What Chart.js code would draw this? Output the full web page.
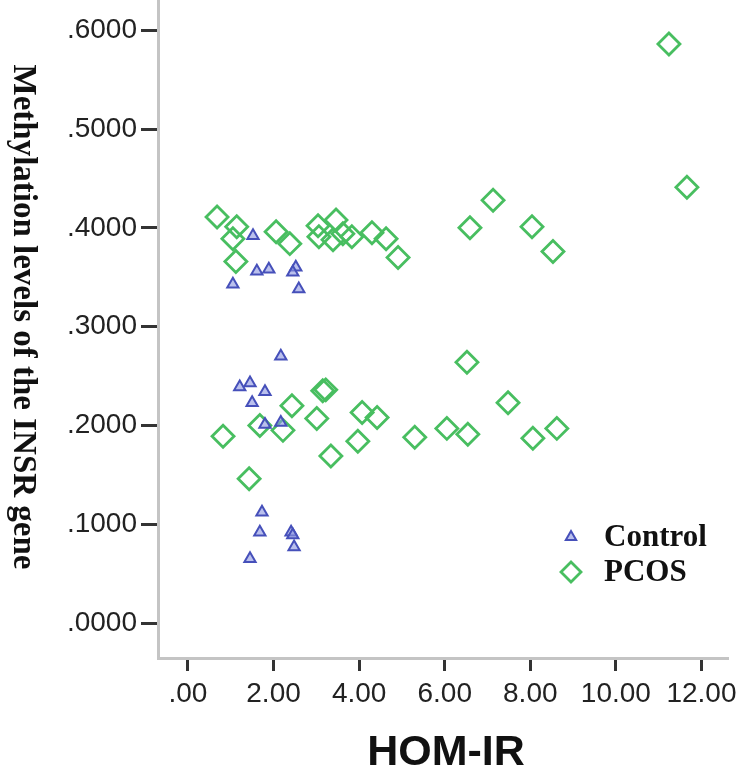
<!DOCTYPE html>
<html>
<head>
<meta charset="utf-8">
<script src="https://cdn.jsdelivr.net/npm/chart.js@4"></script>
<style>
  html, body { margin: 0; padding: 0; background: #fff; }
  #c { display: block; }
</style>
</head>
<body>
<canvas id="c" width="742" height="776"></canvas>
<script>
// ---- data ----
const seriesNames = ['Control', 'PCOS'];
const controlX = [1.52, 1.05, 1.61, 1.89, 2.52, 2.45, 2.59, 2.17, 1.21, 1.45, 1.80, 1.50, 1.80, 2.17, 1.73, 1.68, 2.41, 2.45, 2.48, 1.45];
const controlY = [0.392, 0.343, 0.356, 0.358, 0.360, 0.355, 0.338, 0.270, 0.239, 0.243, 0.234, 0.223, 0.201, 0.203, 0.112, 0.092, 0.092, 0.089, 0.077, 0.065];
const pcosX = [0.68, 1.14, 1.05, 1.12, 2.06, 2.38, 3.04, 3.06, 3.46, 3.39, 3.62, 3.83, 4.30, 4.63, 4.91, 6.59, 7.13, 8.04, 8.53, 11.24, 11.66,
               0.82, 1.43, 1.68, 2.22, 2.43, 3.01, 3.15, 3.22, 3.34, 3.97, 4.07, 4.42, 5.30, 6.05, 6.54, 6.52, 7.48, 8.06, 8.62];
const pcosY = [0.411, 0.401, 0.389, 0.366, 0.396, 0.384, 0.402, 0.391, 0.408, 0.388, 0.394, 0.391, 0.395, 0.389, 0.370, 0.400, 0.428, 0.401, 0.376, 0.586, 0.441,
               0.189, 0.146, 0.200, 0.195, 0.220, 0.207, 0.235, 0.236, 0.169, 0.184, 0.213, 0.208, 0.188, 0.197, 0.191, 0.264, 0.223, 0.187, 0.197];
const xTickLabels = ['.00', '2.00', '4.00', '6.00', '8.00', '10.00', '12.00'];
const yTickLabels = ['.0000', '.1000', '.2000', '.3000', '.4000', '.5000', '.6000'];
const xTitle = 'HOM-IR';
const yTitle = 'Methylation levels of the INSR gene';

const toPts = (xs, ys) => xs.map((x, i) => ({ x: x, y: ys[i] }));

const CONTROL_BORDER = 'rgb(70,80,186)';
const CONTROL_FILL = 'rgba(140,150,225,0.6)';
const PCOS_BORDER = 'rgb(72,190,96)';

// ---- plugin: titles + in-chart legend ----
const decor = {
  id: 'decor',
  afterDraw(chart) {
    const ctx = chart.ctx;
    ctx.save();
    // y title, rotated clockwise
    ctx.fillStyle = '#111';
    ctx.font = 'bold 33px "Liberation Serif", "Times New Roman", serif';
    ctx.textAlign = 'center';
    ctx.textBaseline = 'middle';
    ctx.translate(23, 317);
    ctx.rotate(Math.PI / 2);
    ctx.fillText(yTitle, 0, 0);
    ctx.restore();

    ctx.save();
    ctx.fillStyle = '#111';
    ctx.font = 'bold 43px "Liberation Sans", Arial, sans-serif';
    ctx.textAlign = 'center';
    ctx.textBaseline = 'middle';
    ctx.fillText(xTitle, 446, 753);
    ctx.restore();

    // legend
    ctx.save();
    const items = [
      { label: seriesNames[0], style: 'triangle', r: 6, bw: 2, bc: CONTROL_BORDER, bg: CONTROL_FILL, y: 537 },
      { label: seriesNames[1], style: 'rectRot', r: 10, bw: 2.8, bc: PCOS_BORDER, bg: 'rgba(0,0,0,0)', y: 572 }
    ];
    items.forEach(it => {
      ctx.lineWidth = it.bw;
      ctx.strokeStyle = it.bc;
      ctx.fillStyle = it.bg;
      Chart.helpers.drawPoint(ctx, { pointStyle: it.style, radius: it.r, borderWidth: it.bw, rotation: 0 }, 571, it.y);
      ctx.fillStyle = '#111';
      ctx.font = 'bold 31px "Liberation Serif", "Times New Roman", serif';
      ctx.textAlign = 'left';
      ctx.textBaseline = 'middle';
      ctx.fillText(it.label, 604, it.y + 1);
    });
    ctx.restore();
  }
};

new Chart(document.getElementById('c'), {
  type: 'scatter',
  data: {
    datasets: [
      {
        label: seriesNames[0],
        data: toPts(controlX, controlY),
        pointStyle: 'triangle',
        pointRadius: 6.5,
        pointHoverRadius: 6.5,
        borderWidth: 2,
        borderColor: CONTROL_BORDER,
        backgroundColor: CONTROL_FILL
      },
      {
        label: seriesNames[1],
        data: toPts(pcosX, pcosY),
        pointStyle: 'rectRot',
        pointRadius: 11,
        pointHoverRadius: 11,
        borderWidth: 2.8,
        borderColor: PCOS_BORDER,
        backgroundColor: 'rgba(0,0,0,0)'
      }
    ]
  },
  options: {
    responsive: false,
    animation: false,
    devicePixelRatio: 1,
    layout: { autoPadding: false, padding: { left: 0, right: 14, top: 0, bottom: 0 } },
    plugins: {
      legend: { display: false },
      tooltip: { enabled: false }
    },
    scales: {
      x: {
        type: 'linear',
        min: -0.70,
        max: 12.62,
        afterFit(scale) { scale.height = 118; scale.paddingLeft = 0; scale.paddingRight = 0; },
        border: { display: true, color: '#c4c4c4', width: 3 },
        grid: { drawOnChartArea: false, drawTicks: true, tickLength: 13, tickWidth: 3, tickColor: '#333' },
        ticks: {
          stepSize: 2,
          includeBounds: false,
          padding: 6,
          color: '#222',
          font: { family: '"Liberation Sans", Arial, sans-serif', size: 28 },
          maxRotation: 0,
          autoSkip: false,
          callback(v) { const i = Math.round(v / 2); return xTickLabels[i] !== undefined ? xTickLabels[i] : ''; }
        }
      },
      y: {
        type: 'linear',
        min: -0.0354,
        max: 0.6306,
        afterFit(scale) { scale.width = 158; scale.paddingTop = 0; scale.paddingBottom = 0; },
        border: { display: true, color: '#c4c4c4', width: 3 },
        grid: { drawOnChartArea: false, drawTicks: true, tickLength: 17, tickWidth: 3, tickColor: '#333' },
        ticks: {
          stepSize: 0.1,
          includeBounds: false,
          padding: 4,
          color: '#222',
          font: { family: '"Liberation Sans", Arial, sans-serif', size: 28 },
          autoSkip: false,
          callback(v) { const i = Math.round(v * 10); return yTickLabels[i] !== undefined ? yTickLabels[i] : ''; }
        }
      }
    }
  },
  plugins: [decor]
});
</script>
</body>
</html>
